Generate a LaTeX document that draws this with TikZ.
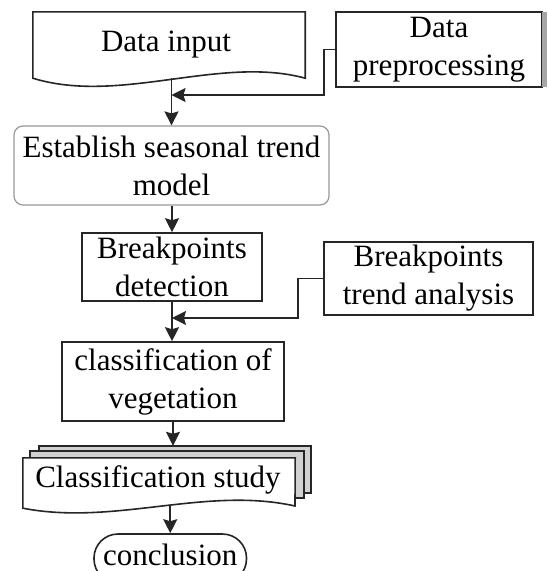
\documentclass[tikz,border=0pt]{standalone}
\usepackage{fontspec}
\setmainfont{Liberation Serif}
\usetikzlibrary{arrows.meta,calc}
\begin{document}
\begin{tikzpicture}[x=1pt,y=-1pt,
  every node/.style={font=\fontsize{31}{38}\selectfont, align=center, inner sep=0pt},
  stroke/.style={draw=black!85, line width=1.6pt},
  box/.style={stroke, fill=white, rectangle},
  roundbox/.style={draw=black!40, line width=1.2pt, rounded corners=9pt, fill=white},
  sheet/.style={stroke, fill=black!18},
  arr/.style={stroke, -{Stealth[length=14pt,width=14pt,inset=2pt]}}]
\useasboundingbox (0,0) rectangle (547,571);
\clip (0,0) rectangle (547,571);

% input document (wavy bottom edge)
\node[minimum width=272pt, minimum height=66pt] (din) at (169,45) {};
\draw[stroke, fill=white] (din.south west) -- (din.north west) -- (din.north east) -- (din.south east)
  .. controls (220,55) and (120,105) .. (din.south west) -- cycle;
\node[anchor=base] (dintext) at (166,51) {Data input};

% preprocessing box with grey edge strip
\node[box, minimum width=206pt, minimum height=75pt] (pre) at (439,49.5) {Data\\preprocessing};
\fill[black!35] (542,12) rectangle (547,87);

% seasonal trend model
\node[roundbox, minimum width=315pt, minimum height=79pt] (est) at (171.5,165.5) {Establish seasonal trend\\model};

% breakpoints
\node[box, minimum width=180pt, minimum height=68pt] (bd) at (172,267) {Breakpoints\\detection};
\node[box, minimum width=209pt, minimum height=73pt] (bta) at (428.5,278.5) {Breakpoints\\trend analysis};

% classification
\node[box, minimum width=222pt, minimum height=79pt] (cv) at (173,381.5) {classification of\\vegetation};

% stacked documents
\node[minimum width=272pt, minimum height=47pt] (back) at (175,469.5) {};
\draw[sheet] (back.south west) rectangle (back.north east);
\node[minimum width=273.5pt, minimum height=46.5pt] (mid) at (166.75,474.25) {};
\draw[sheet] (mid.south west) rectangle (mid.north east);
\node[minimum width=272pt, minimum height=50pt] (cs) at (159,483) {};
\draw[stroke, fill=white] (cs.south west) -- (cs.north west) -- (cs.north east) -- (295,506)
  .. controls (205,486) and (115,526) .. (cs.south west) -- cycle;
\node[anchor=base] (cstext) at (158,487) {Classification study};

% terminal
\node[stroke, rounded corners=24pt, minimum width=152.5pt, minimum height=49pt, fill=white] (concl) at (170.25,558.5) {};
\node[anchor=base] (concltext) at (170.25,565) {conclusion};

% junctions on the main flow line
\coordinate (j1) at (171.5,95);
\coordinate (j2) at (172,318);

% connectors
\draw[arr] (est.north |- din.south) -- (est.north);
\draw[arr] (pre.west) -- ++(-11,0) |- (j1);
\draw[arr] (bd.north |- est.south) -- (bd.north);
\draw[arr] (bd.south) -- (bd.south |- cv.north);
\draw[arr] (bta.west) -- ++(-25,0) |- (j2);
\draw[arr] (cv.south) -- (cv.south |- back.north);
\draw[arr] ($(concl.north |- cs.south)+(0,-3)$) -- (concl.north);
\end{tikzpicture}
\end{document}
